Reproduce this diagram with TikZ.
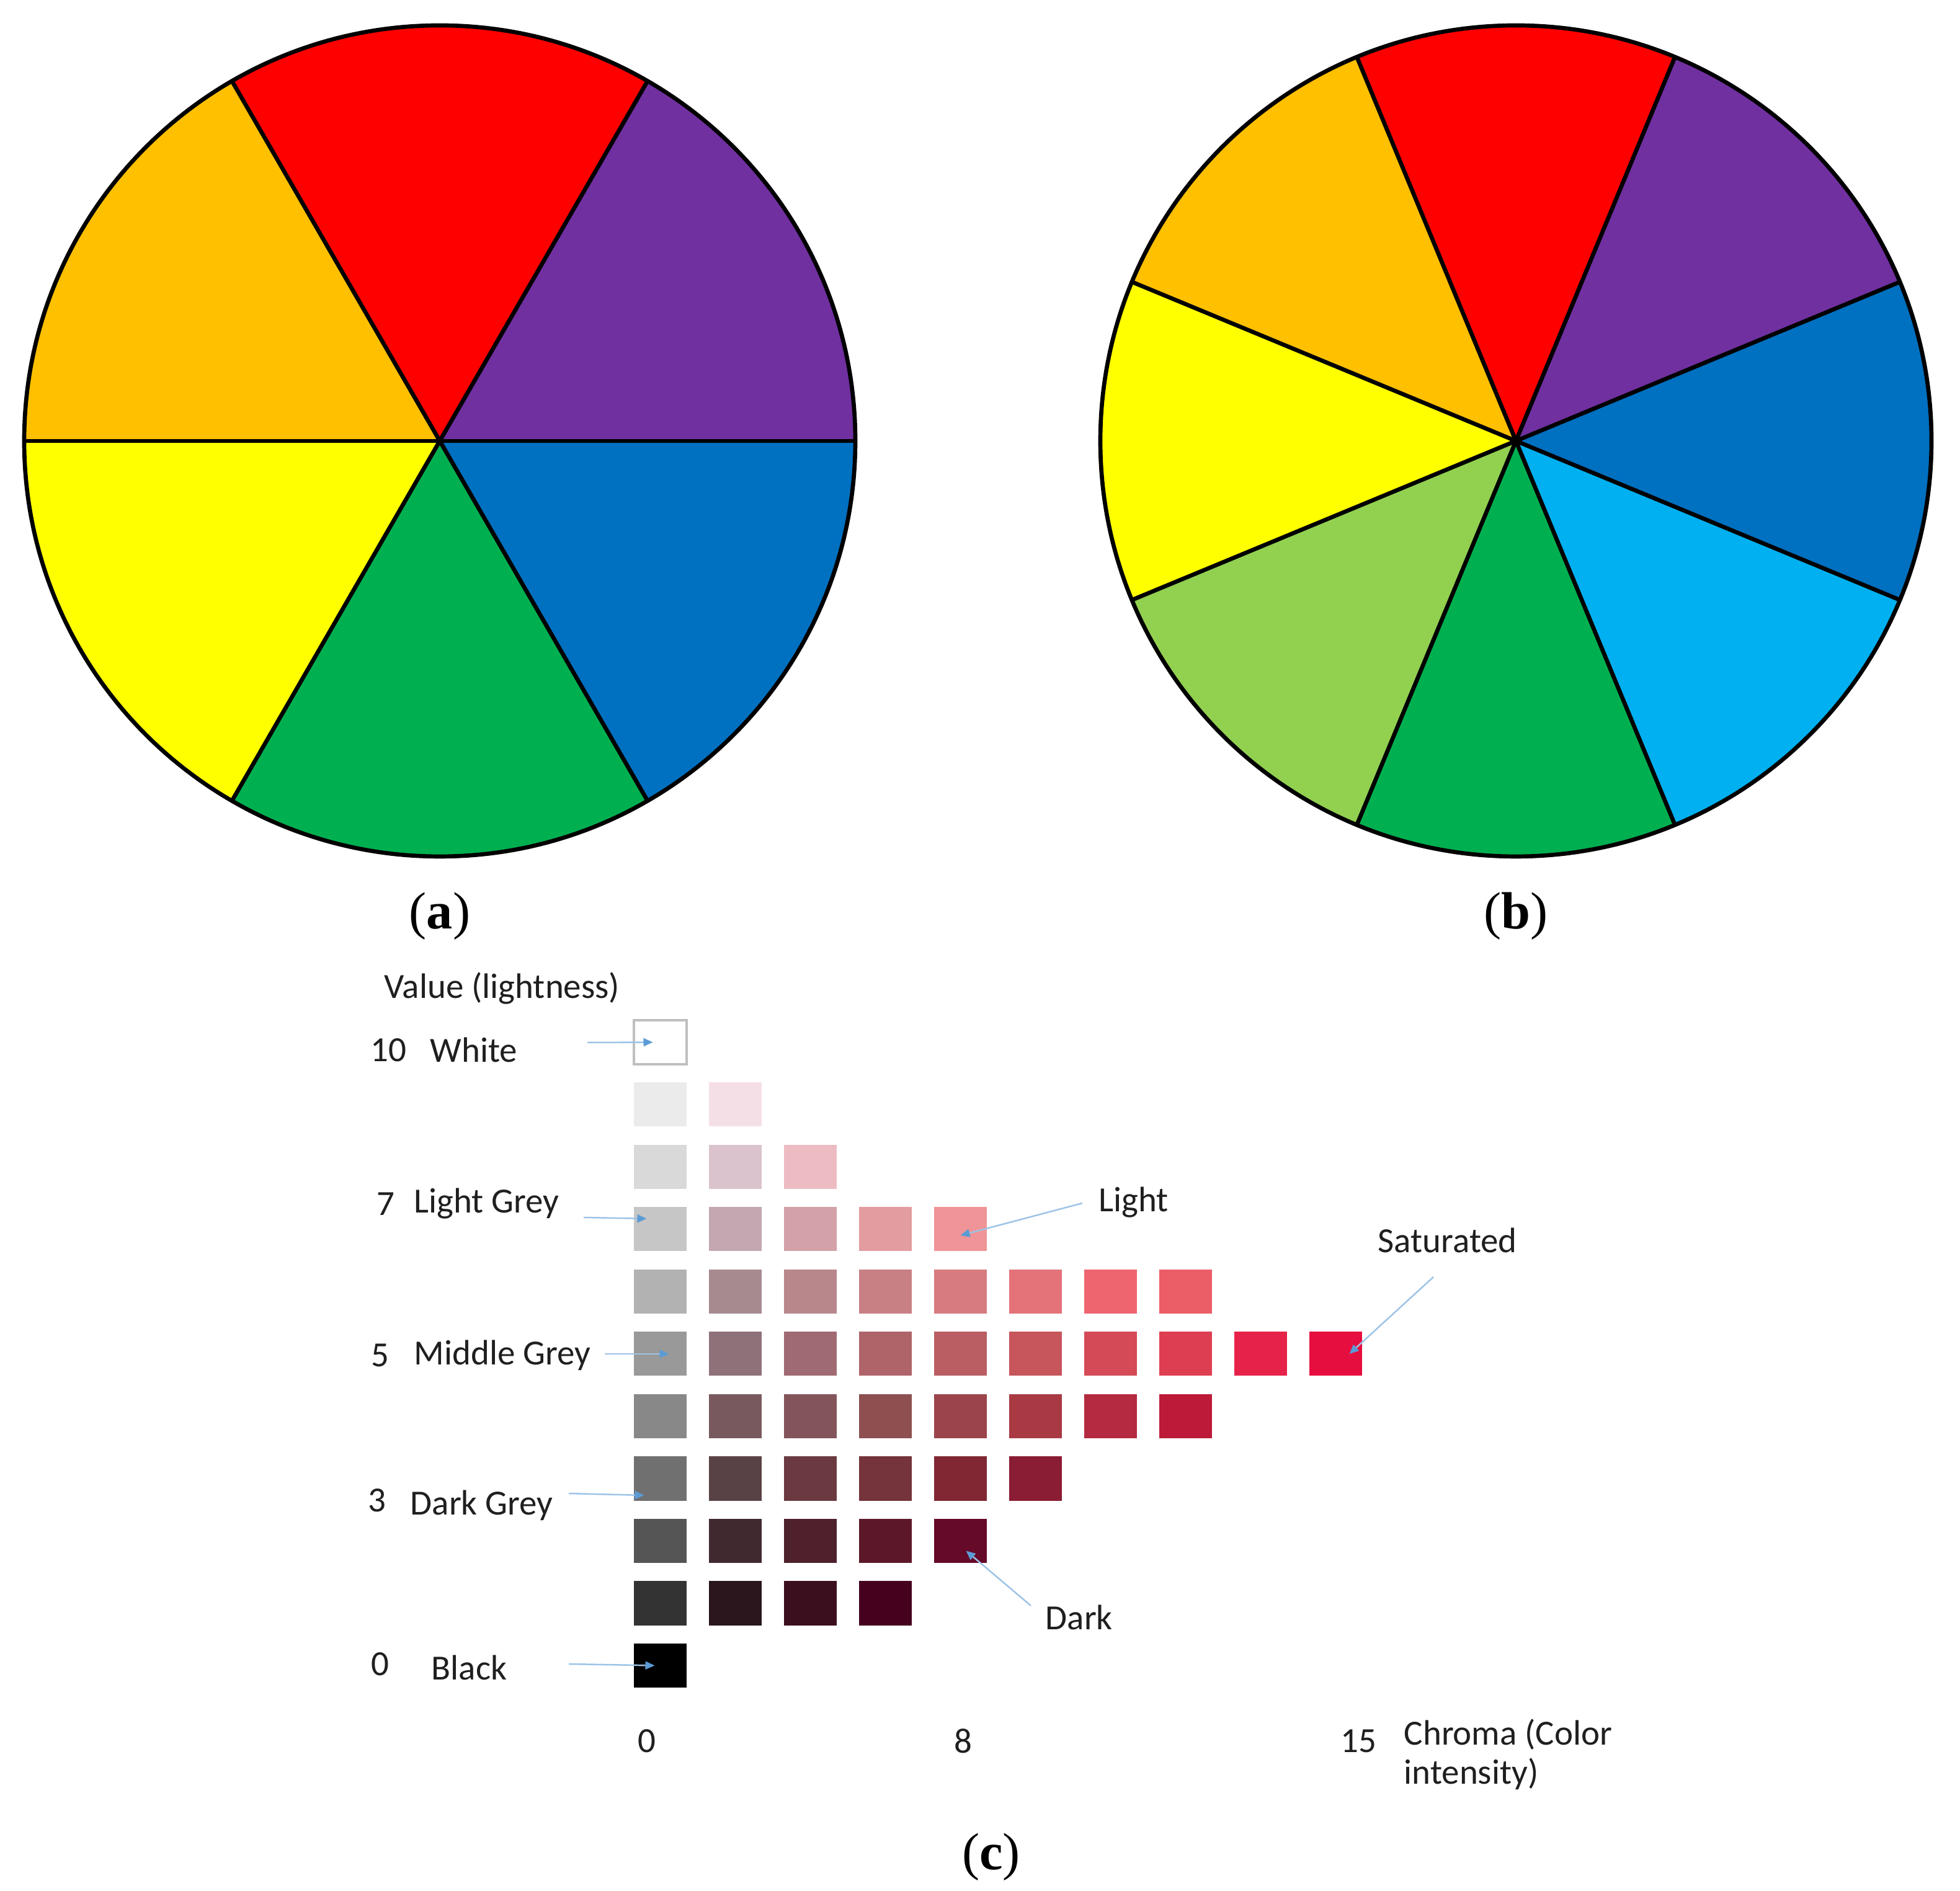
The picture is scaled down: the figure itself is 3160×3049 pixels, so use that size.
\documentclass[tikz,border=0pt]{standalone}
\usepackage{fontspec}
\setmainfont{Liberation Serif}
\newfontfamily\labfont{Carlito}
\usetikzlibrary{arrows.meta}
\definecolor{wred}{HTML}{FF0000}
\definecolor{wpurple}{HTML}{7030A0}
\definecolor{wblue}{HTML}{0070C0}
\definecolor{wlblue}{HTML}{00B0F0}
\definecolor{wgreen}{HTML}{00B050}
\definecolor{wlgreen}{HTML}{92D050}
\definecolor{wyellow}{HTML}{FFFF00}
\definecolor{worange}{HTML}{FFC000}
\definecolor{arrowblue}{HTML}{9DC3E6}
\definecolor{tipblue}{HTML}{5B9BD5}
\begin{document}
\begin{tikzpicture}[x=0.01cm,y=0.01cm,
  wheelline/.style={line width=1.9pt, black, line join=round},
  cell/.style={minimum width=0.85cm, minimum height=0.71cm, inner sep=0pt, outer sep=0pt},
  lab/.style={font=\labfont\fontsize{16.2}{19}\selectfont, inner sep=0pt, text=black!88},
  callout/.style={draw=arrowblue, line width=0.7pt, -{Triangle[length=0.15cm,width=0.13cm,color=tipblue]}},
  sublab/.style={font=\fontsize{24}{28}\selectfont, inner sep=0pt}]
\useasboundingbox (0,0) rectangle (3160,3049);
% ---------- wheel (a) ----------
\coordinate (wa) at (709,2338);
\begin{scope}[shift={(wa)}]
  \foreach \a/\c in {0/wpurple,60/wred,120/worange,180/wyellow,240/wgreen,300/wblue}
    \fill[\c] (0,0) -- (\a:670) arc[start angle=\a, delta angle=60, radius=670] -- cycle;
  \foreach \a in {0,60,...,300}
    \draw[wheelline] (0,0) -- (\a:670);
  \draw[wheelline] (0,0) circle[radius=670];
\end{scope}
% ---------- wheel (b) ----------
\coordinate (wb) at (2444,2338);
\begin{scope}[shift={(wb)}]
  \foreach \a/\c in {-22.5/wblue,22.5/wpurple,67.5/wred,112.5/worange,157.5/wyellow,202.5/wlgreen,247.5/wgreen,292.5/wlblue}
    \fill[\c] (0,0) -- (\a:670) arc[start angle=\a, delta angle=45, radius=670] -- cycle;
  \foreach \a in {22.5,67.5,...,337.5}
    \draw[wheelline] (0,0) -- (\a:670);
  \draw[wheelline] (0,0) circle[radius=670];
\end{scope}
\node[sublab] (la) at (709,1572) {(\textbf{a})};
\node[sublab] (lb) at (2444,1572) {(\textbf{b})};
\node[sublab] (lc) at (1598,55) {(\textbf{c})};
% ---------- Munsell-like grid ----------
\foreach \v/\list in {
  9/{EBEBEB,F5DFE7},
  8/{D9D9D9,DAC3CC,EDBCC3},
  7/{C6C6C6,C3A7B1,D3A1A8,E39C9F,F09497},
  6/{B2B2B2,A68A90,B8878C,C98084,D77B7F,E37379,EE6570,EB5D67},
  5/{999999,8F717A,A06A72,AF646A,BA5E63,C6565C,D44A56,DE3E51,E62249,E60E3F},
  4/{888888,785A5E,83555A,8D4F50,9B444B,A93A44,B42A40,BC1A38},
  3/{707070,594245,6A3A40,75333B,802733,8A1C33},
  2/{555555,402A30,4E212C,5C1829,660A2A},
  1/{333333,2A161C,3C0F1E,45021F},
  0/{000000}} {
  \foreach \h [count=\i from 0] in \list {
    \definecolor{cc}{HTML}{\h}
    \node[cell, fill=cc] (c\v-\i) at ({1064.5+121*\i},{363.5+100.5*\v}) {};
  }
}
\node[cell, fill=white, draw=black!25, line width=0.9pt] (c10-0) at (1064.5,1368.5) {};
% ---------- labels ----------
\node[lab, anchor=west] (tval) at (619,1455) {Value (lightness)};
\node[lab, anchor=west] (n10) at (597,1356) {10};
\node[lab, anchor=west] (twhite) at (693,1356) {White};
\node[lab, anchor=west] (n7) at (607,1108) {7};
\node[lab, anchor=west] (tlgrey) at (667,1108) {Light Grey};
\node[lab, anchor=west] (n5) at (598,864) {5};
\node[lab, anchor=west] (tmgrey) at (667,864) {Middle Grey};
\node[lab, anchor=west] (n3) at (593,630) {3};
\node[lab, anchor=west] (tdgrey) at (661,622) {Dark Grey};
\node[lab, anchor=west] (n0) at (598,366) {0};
\node[lab, anchor=west] (tblack) at (695,360) {Black};
\node[lab, anchor=west] (tlight) at (1771,1110) {Light};
\node[lab, anchor=west] (tsat) at (2221,1049) {Saturated};
\node[lab, anchor=west] (tdark) at (1685,441) {Dark};
\node[lab] (x0) at (1043,242) {0};
\node[lab] (x8) at (1553,242) {8};
\node[lab] (x15) at (2190,242) {15};
\node[lab, anchor=west, align=left, font=\labfont\fontsize{16.2}{18}\selectfont] (tchroma) at (2263,220) {Chroma (Color\\intensity)};
% ---------- callout arrows ----------
\coordinate (sw) at (947,1368);
\coordinate (slg) at (941,1086);
\coordinate (smg) at (975,866);
\coordinate (sdg) at (917,641);
\coordinate (sbk) at (917,366);
\coordinate (sli) at (1745,1109);
\coordinate (ssa) at (2311,990);
\coordinate (sda) at (1662,460);
\draw[callout] (sw) -- ([xshift=-0.12cm]c10-0.center);
\draw[callout] (slg) -- ([xshift=-0.22cm,yshift=0.17cm]c7-0.center);
\draw[callout] (smg) -- ([xshift=0.14cm]c5-0.center);
\draw[callout] (sdg) -- ([xshift=-0.26cm,yshift=-0.27cm]c3-0.center);
\draw[callout] (sbk) -- ([xshift=-0.09cm]c0-0.center);
\draw[callout] (sli) -- ([yshift=-0.1cm]c7-4.center);
\draw[callout] (ssa) -- ([xshift=0.22cm]c5-9.center);
\draw[callout] (sda) -- ([xshift=0.09cm,yshift=-0.16cm]c2-4.center);
\end{tikzpicture}
\end{document}
